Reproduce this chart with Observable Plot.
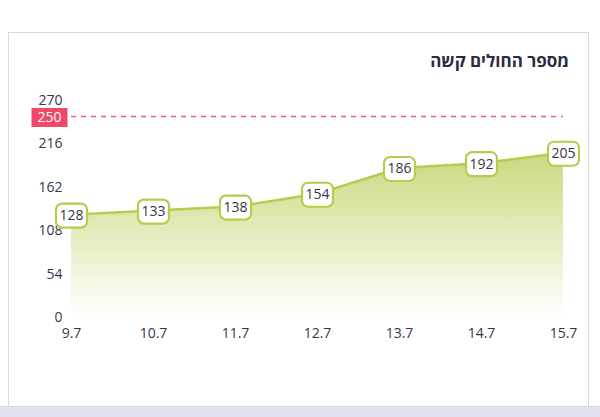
<!DOCTYPE html>
<html>
<head>
<meta charset="utf-8">
<script src="https://cdn.jsdelivr.net/npm/d3@7"></script>
<script src="https://cdn.jsdelivr.net/npm/@observablehq/plot@0.6"></script>
<style>
  html, body { margin: 0; padding: 0; background: #fff; }
  body { width: 600px; height: 417px; position: relative; overflow: hidden; font-family: "Open Sans", sans-serif; }
  #card { position: absolute; left: 8px; top: 32px; width: 581px; height: 375px; box-sizing: border-box;
          border: 1px solid #dadada; border-bottom: none; background: #fff; }
  #band { position: absolute; left: 0; top: 406px; width: 600px; height: 11px; background: #dfe2ec; border-top: 1px solid #d4d6dc; }
  #title { position: absolute; right: 31px; top: 50px; line-height: 22px; font-size: 17px; font-weight: 700;
           color: #2b2b42; direction: rtl; white-space: nowrap; }
  #chart { position: absolute; left: 0; top: 0; }
</style>
</head>
<body>
<div id="card"></div>
<div id="band"></div>
<div id="title">מספר החולים קשה</div>
<div id="chart"></div>
<script>
const dates = ["9.7", "10.7", "11.7", "12.7", "13.7", "14.7", "15.7"];
const values = [128, 133, 138, 154, 186, 192, 205];
const yTicks = [0, 54, 108, 162, 216, 270];
const threshold = [250];

const data = dates.map((d, i) => ({date: d, value: values[i]}));

const roundBox = (w, h, r) => ({
  draw(ctx) {
    const x0 = -w / 2, y0 = -h / 2, x1 = w / 2, y1 = h / 2;
    ctx.moveTo(x0 + r, y0);
    ctx.lineTo(x1 - r, y0);
    if (r) ctx.arcTo(x1, y0, x1, y0 + r, r);
    ctx.lineTo(x1, y1 - r);
    if (r) ctx.arcTo(x1, y1, x1 - r, y1, r);
    ctx.lineTo(x0 + r, y1);
    if (r) ctx.arcTo(x0, y1, x0, y1 - r, r);
    ctx.lineTo(x0, y0 + r);
    if (r) ctx.arcTo(x0, y0, x0 + r, y0, r);
    ctx.closePath();
  }
});

const defs = () => {
  const ns = "http://www.w3.org/2000/svg";
  const d = document.createElementNS(ns, "defs");
  d.innerHTML = `<linearGradient id="areaGrad" x1="0" y1="0" x2="0" y2="1">
      <stop offset="0" stop-color="#cbd87e"/>
      <stop offset="1" stop-color="#ffffff"/>
    </linearGradient>`;
  return d;
};

const green = "#b7cc4c";
const red = "#f0486a";
const textColor = "#363649";

const plot = Plot.plot({
  width: 600,
  height: 417,
  marginLeft: 71,
  marginRight: 37,
  marginTop: 100,
  marginBottom: 100,
  style: {background: "transparent", fontFamily: "Open Sans", fontSize: "14px", color: textColor},
  x: {type: "point", domain: dates, padding: 0, label: null, tickSize: 0, tickPadding: 11},
  y: {domain: [0, 270], ticks: yTicks, label: null, tickSize: 0, tickPadding: 9},
  marks: [
    defs,
    Plot.areaY(data, {x: "date", y: "value", fill: "url(#areaGrad)"}),
    Plot.ruleY(threshold, {x1: () => dates[0], x2: () => dates[dates.length - 1], stroke: "#f2587a", strokeWidth: 1.4, strokeDasharray: "5,5", strokeOpacity: 1}),
    Plot.lineY(data, {x: "date", y: "value", stroke: green, strokeWidth: 2.5}),
    Plot.dot(data, {x: "date", y: "value", r: 5, dy: 1, symbol: roundBox(31, 24, 6), fill: "white", stroke: green, strokeWidth: 2.2}),
    Plot.text(data, {x: "date", y: "value", text: d => String(d.value), dy: 1, fill: textColor, fontSize: 14}),
    Plot.dot(threshold, {x: () => dates[0], y: d => d, dx: -22, dy: 1, r: 5, symbol: roundBox(36, 19, 0), fill: red, stroke: "none"}),
    Plot.text(threshold, {x: () => dates[0], y: d => d, dx: -22, dy: 1, text: d => String(d), fill: "white", fontSize: 14})
  ]
});
document.getElementById("chart").appendChild(plot);
</script>
</body>
</html>
